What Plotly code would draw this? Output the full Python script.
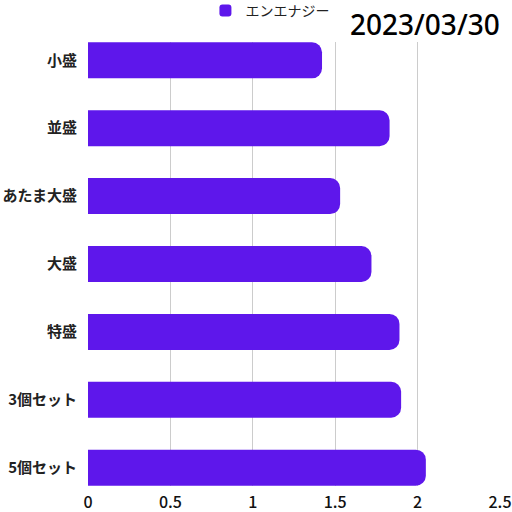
import plotly.graph_objects as go

# --- data ---
CATEGORIES = ["小盛", "並盛", "あたま大盛", "大盛", "特盛", "3個セット", "5個セット"]
VALUES = [1.42, 1.83, 1.53, 1.72, 1.89, 1.90, 2.05]
SERIES_NAME = "エンエナジー"
DATE_LABEL = "2023/03/30"

BAR_COLOR = "#5E17EB"
FONT = "Noto Sans CJK JP"

fig = go.Figure()
fig.add_trace(
    go.Bar(
        x=VALUES,
        y=CATEGORIES,
        orientation="h",
        name=SERIES_NAME,
        marker=dict(color=BAR_COLOR, line=dict(width=0)),
        width=0.53,
        showlegend=True,
    )
)

fig.update_layout(
    width=512,
    height=512,
    margin=dict(l=88, r=12, t=42, b=26, autoexpand=False),
    paper_bgcolor="white",
    plot_bgcolor="white",
    barcornerradius=10,
    font=dict(family=FONT, color="#222222"),
    legend=dict(
        orientation="h",
        x=0.285,
        xanchor="left",
        y=1.07,
        yanchor="middle",
        font=dict(size=14, color="#222222"),
        itemwidth=30,
    ),
    annotations=[
        dict(
            text=DATE_LABEL,
            xref="paper",
            yref="paper",
            x=1.005,
            y=1.04,
            xanchor="right",
            yanchor="middle",
            showarrow=False,
            font=dict(family="Noto Sans", size=28, color="#000000", weight=500),
        )
    ],
)

fig.update_xaxes(
    range=[0, 2.5],
    dtick=0.5,
    showgrid=True,
    gridcolor="#cccccc",
    gridwidth=1,
    zeroline=False,
    showline=False,
    automargin=False,
    tickfont=dict(size=16, color="#111111", weight=500),
    ticklabelstandoff=5,
)
fig.update_yaxes(
    range=[6.27, -0.27],
    showgrid=False,
    zeroline=False,
    showline=False,
    automargin=False,
    tickfont=dict(size=15, color="#222222", weight=700),
    ticklabelstandoff=10,
)

# page body has a default 8px margin; remove it so the 512px figure fits
fig.write_html(
    "out.html",
    config={"displayModeBar": False},
    post_script="document.body.style.margin='0';",
)
